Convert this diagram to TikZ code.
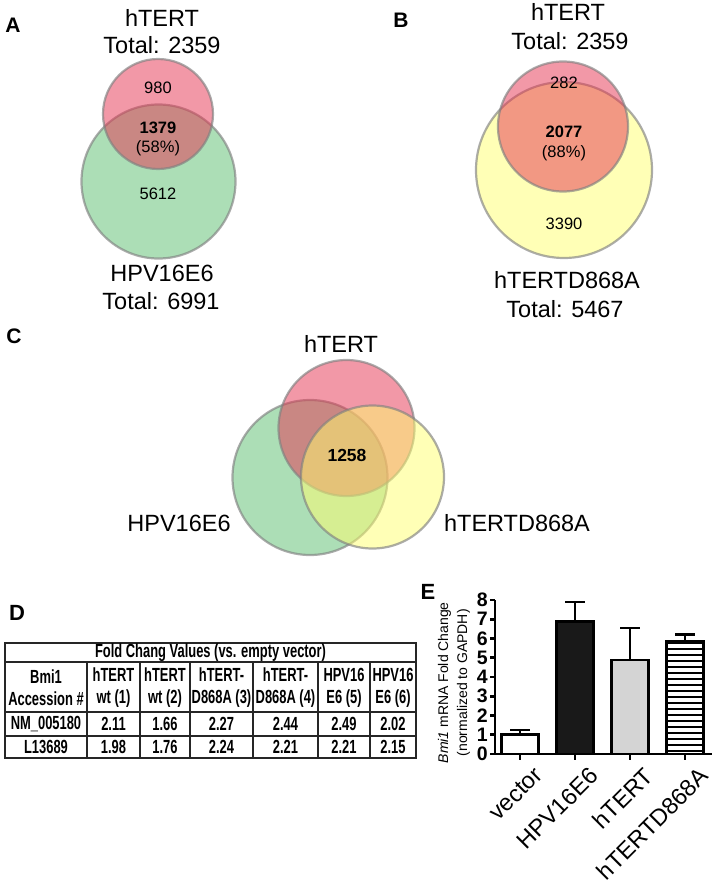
\documentclass[tikz,border=0pt]{standalone}
\usepackage{fontspec}
\setmainfont{Liberation Sans}
\newfontfamily\narrowfont[FakeStretch=0.68]{Liberation Sans}
\usetikzlibrary{patterns.meta}
\definecolor{vred}{RGB}{230,50,80}
\definecolor{vgreen}{RGB}{90,190,110}
\definecolor{vyellow}{RGB}{255,255,110}
\tikzset{
  venn/.style={circle,draw=black!50,draw opacity=0.65,line width=2.2pt,fill opacity=0.5,inner sep=0pt},
  redset/.style={venn,fill=vred},
  greenset/.style={venn,fill=vgreen},
  yellowset/.style={venn,fill=vyellow},
  panel/.style={font=\bfseries\fontsize{21}{24}\selectfont,inner sep=0pt},
  setname/.style={font=\fontsize{23.5}{27}\selectfont,inner sep=0pt},
  cnt/.style={font=\fontsize{16.5}{19}\selectfont,inner sep=0pt},
  cntb/.style={font=\bfseries\fontsize{16.5}{19}\selectfont,inner sep=0pt},
  tbl/.style={font=\narrowfont\bfseries\fontsize{19}{22}\selectfont,inner sep=0pt,align=center},
  tblline/.style={line width=1.1pt,black!85},
  bar/.style={draw,line width=2.6pt},
  errb/.style={line width=2.6pt},
  axisln/.style={line width=2.8pt},
  ticklbl/.style={font=\bfseries\fontsize{19.5}{22}\selectfont,inner sep=0pt,anchor=east},
  xlbl/.style={font=\fontsize{23.5}{26}\selectfont,inner sep=0pt,anchor=north east,rotate=45},
  ylbl/.style={font=\fontsize{14}{19}\selectfont,inner sep=0pt,align=center,rotate=90}
}
\begin{document}
\begin{tikzpicture}[x=1pt,y=-1pt]
  \useasboundingbox (0,0) rectangle (718,889);

  % Panel A
  \node[panel] (labA) at (13,25) {A};
  \node[setname] (aTop) at (162,18) {hTERT};
  \node[setname] (aTopTot) at (162,45) {Total: 2359};
  \node[greenset,minimum size=154pt] (aGreen) at (158.5,181.5) {};
  \node[redset,minimum size=110pt] (aRed) at (158,114) {};
  \node[cnt] (aOnly) at (158,88) {980};
  \node[cntb] (aBoth) at (158,127.5) {1379};
  \node[cnt] (aPct) at (158,148) {(58\%)};
  \node[cnt] (aRest) at (158,194) {5612};
  \node[setname] (aBot) at (162,273) {HPV16E6};
  \node[setname] (aBotTot) at (161,301) {Total: 6991};

  % Panel B
  \node[panel] (labB) at (401,20) {B};
  \node[setname] (bTop) at (568,12) {hTERT};
  \node[setname] (bTopTot) at (570,41) {Total: 2359};
  \node[yellowset,minimum size=176pt] (bYellow) at (564,170) {};
  \node[redset,minimum size=130pt] (bRed) at (563,126.5) {};
  \node[cnt] (bOnly) at (564,83) {282};
  \node[cntb] (bBoth) at (564,132) {2077};
  \node[cnt] (bPct) at (564,153) {(88\%)};
  \node[cnt] (bRest) at (564,224) {3390};
  \node[setname] (bBot) at (567,280) {hTERTD868A};
  \node[setname] (bBotTot) at (565,309) {Total: 5467};

  % Panel C
  \node[panel] (labC) at (14,336) {C};
  \node[setname] (cTop) at (341,344) {hTERT};
  \node[greenset,minimum size=155pt] (cGreen) at (310,477.5) {};
  \node[redset,minimum size=136pt] (cRed) at (346.5,428) {};
  \node[yellowset,minimum size=143pt] (cYellow) at (372.5,477) {};
  \node[cntb,font=\bfseries\fontsize{17.5}{20}\selectfont] (cAll) at (347,455) {1258};
  \node[setname] (cLeft) at (179,523) {HPV16E6};
  \node[setname] (cRight) at (517,523) {hTERTD868A};

  % Panel D
  \node[panel,font=\bfseries\fontsize{22}{24}\selectfont] (labD) at (17,613) {D};
  \draw[tblline,line width=1.5pt] (5,643) rectangle (416,758);
  \draw[tblline] (5,662) -- (416,662);
  \draw[tblline] (5,712) -- (416,712);
  \draw[tblline] (5,736) -- (416,736);
  \foreach \c in {87,140,190,253,318,370}
    \draw[tblline] (\c,662) -- (\c,758);
  \node[tbl] (tTitle) at (210.5,653) {Fold Chang Values (vs. empty vector)};
  \foreach \cx/\hd/\a/\b [count=\i] in {46/{Bmi1\\Accession \#}/NM\_005180/L13689,
      113.5/{hTERT\\wt (1)}/2.11/1.98, 165/{hTERT\\wt (2)}/1.66/1.76,
      221.5/{hTERT-\\D868A (3)}/2.27/2.24, 285.5/{hTERT-\\D868A (4)}/2.44/2.21,
      344/{HPV16\\E6 (5)}/2.49/2.21, 393/{HPV16\\E6 (6)}/2.02/2.15} {
    \node[tbl] (hd\i) at (\cx,688) {\hd};
    \node[tbl] (nm\i) at (\cx,724) {\a};
    \node[tbl] (lr\i) at (\cx,747) {\b};
  }

  % Panel E
  \node[panel,font=\bfseries\fontsize{22}{24}\selectfont] (labE) at (428,592) {E};
  \begin{scope}[shift={(495,754)},y=19.25pt]
    % bars
    \draw[bar,fill=white] (6.5,0) rectangle (43.5,1.0);
    \draw[bar,fill=black!90] (61.5,0) rectangle (98.5,6.88);
    \draw[bar,fill=black!17] (116.5,0) rectangle (153.5,4.88);
    \draw[bar,pattern={Lines[angle=0,distance=6pt,line width=1.3pt]}] (171.5,0) rectangle (208.5,5.87);
    % error bars
    \foreach \cx/\lo/\hi in {25/1.0/1.25,80/6.88/7.9,135/4.88/6.55,190/5.87/6.22} {
      \draw[errb] (\cx,\lo) -- (\cx,\hi);
      \draw[errb] ({\cx-10},\hi) -- ({\cx+10},\hi);
    }
    % axes
    \draw[axisln] (0,8) -- (0,0) -- (217,0);
    \foreach \v in {0,...,8} {
      \draw[axisln] (-5,\v) -- (0,\v);
      \node[ticklbl] (yt\v) at (-7,\v) {\v};
    }
    \foreach \cx/\nm/\txt in {25/xvec/vector,80/xhpv/HPV16E6,135/xtert/hTERT,190/xmut/hTERTD868A} {
      \draw[axisln] (\cx,0) -- (\cx,-0.33);
      \node[xlbl] (\nm) at ({\cx+13},-0.6) {\txt};
    }
    \node[ylbl] (ylab) at (-41,3.7) {\textit{Bmi1} mRNA Fold Change\\(normalized to GAPDH)};
  \end{scope}
\end{tikzpicture}
\end{document}
